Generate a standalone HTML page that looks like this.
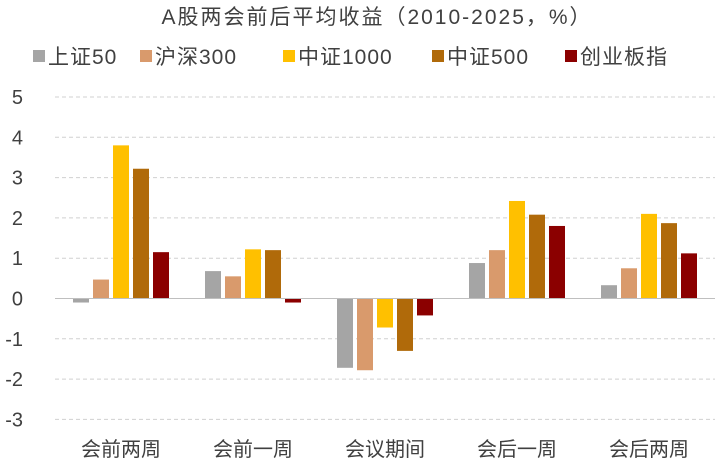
<!DOCTYPE html>
<html><head><meta charset="utf-8"><style>
body{margin:0;background:#fff;width:720px;height:465px;overflow:hidden}
svg text{font-family:"Liberation Sans","Noto Sans CJK SC",sans-serif;fill:#404040}
</style></head><body>
<svg id="chart" width="720" height="465">
<text x="377" y="24" text-anchor="middle" font-size="21" letter-spacing="2">A股两会前后平均收益（2010-2025，%）</text>
<g id="legend"></g>
<g id="grid"></g>
<g id="bars"></g>
<g id="yaxis"></g>
<g id="xaxis"></g>
</svg>
<script>
const categories=["会前两周","会前一周","会议期间","会后一周","会后两周"];
const seriesNames=["上证50","沪深300","中证1000","中证500","创业板指"];
const s1=[-0.1,0.68,-1.72,0.88,0.33];
const s2=[0.47,0.55,-1.78,1.2,0.75];
const s3=[3.8,1.22,-0.72,2.42,2.1];
const s4=[3.22,1.2,-1.3,2.08,1.87];
const s5=[1.15,-0.1,-0.42,1.8,1.12];
const yTicks=[5,4,3,2,1,0,-1,-2,-3];
const series=[s1,s2,s3,s4,s5];
const colors=["#a5a5a5","#d99a6c","#ffc000","#b06a0a","#8b0000"];
const NS="http://www.w3.org/2000/svg";
const y0=298.5,unit=40.3,xL=55,xR=715,gw=(xR-xL)/categories.length;
const Y=v=>y0-v*unit;
const X=i=>xL+gw*(i+0.5);
function mk(tag,attrs,parent,txt){const e=document.createElementNS(NS,tag);for(const k in attrs)e.setAttribute(k,attrs[k]);if(txt!==undefined)e.textContent=txt;parent.appendChild(e);return e;}
const grid=document.getElementById('grid'),ya=document.getElementById('yaxis');
yTicks.forEach(t=>{
  if(t!==0){const l=mk('line',{x1:xL,x2:xR,y1:Y(t),y2:Y(t),stroke:'#d0d0d0','stroke-dasharray':'4,3'},grid);
  
  }
  const tx=mk('text',{x:23,y:Y(t)+7,'text-anchor':'end','font-size':20},ya,String(t));
  
  
});
const bars=document.getElementById('bars');
const bw=16,step=20;
series.forEach((s,k)=>{s.forEach((v,i)=>{
  const x=X(i)+(k-2)*step-bw/2;
  const r=mk('rect',{x:x,y:Math.min(Y(v),y0),width:bw,height:Math.abs(Y(v)-y0),fill:colors[k]},bars);
  
  
});});
const xa=document.getElementById('xaxis');
const al=mk('line',{x1:xL,x2:xR,y1:y0,y2:y0,stroke:'#bfbfbf'},xa);


categories.forEach((c,i)=>{
  const t=mk('text',{x:X(i),y:456,'text-anchor':'middle','font-size':20},xa,c);
  
  
});
const lg=document.getElementById('legend');
const lx=[33,140,283,432,565];
seriesNames.forEach((n,k)=>{
  const r=mk('rect',{x:lx[k],y:50,width:12,height:12,fill:colors[k]},lg);
  
  
  const t=mk('text',{x:lx[k]+15,y:64,'font-size':21,'letter-spacing':1},lg,n);
  
  
});
</script>
</body></html>
